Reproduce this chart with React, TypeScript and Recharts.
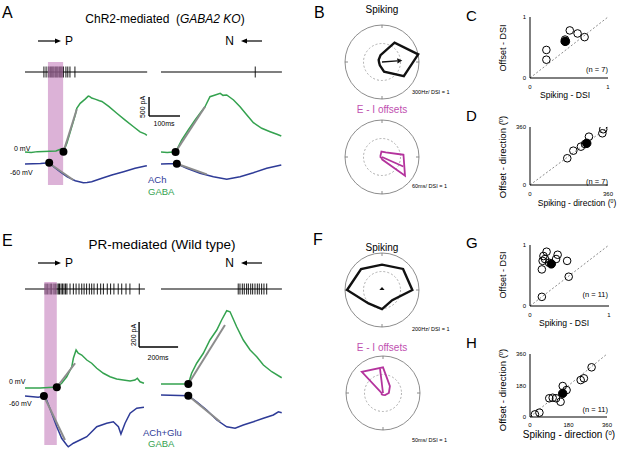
import React from 'react';
import {
  ComposedChart,
  Line,
  Scatter,
  XAxis,
  YAxis,
  ReferenceArea,
  ReferenceLine,
  ReferenceDot,
  RadarChart,
  Radar,
  PolarAngleAxis,
  PolarRadiusAxis,
  PolarGrid,
  ScatterChart,
} from 'recharts';

const FONT = 'Arial, "Liberation Sans", Helvetica, sans-serif';
const GREEN = '#34a24f';
const BLUE = '#2e3b97';
const FIT = '#8c8c8c';
const PINK = '#c47fbc';
const MAGENTA = '#b4339d';

type Pt = { t: number; v: number };
const pts = (rows: number[][]): Pt[] => rows.map(([t, v]) => ({ t, v }));

// ---------- A: ChR2-mediated (GABA2 KO) — time in ms, current in pA ----------
const aLeftGaba = pts([
  [0, 0], [20, -10], [40, 10], [60, 15], [80, 20], [100, 26], [110, 60], [118, 80], [124, 10],
  [135, 230], [146, 530], [162, 970], [167, 1150], [178, 1280], [194, 1390], [204, 1470],
  [208, 1460], [215, 1420], [226, 1390], [240, 1350], [248, 1330], [270, 1200], [296, 1020],
  [323, 840], [350, 665], [371, 530], [388, 470], [393, 440],
]);
const aLeftAch = pts([
  [0, -316], [25, -310], [50, -302], [78, -281], [92, -387], [113, -518], [135, -650], [162, -755],
  [188, -807], [200, -800], [215, -781], [248, -692], [280, -605], [318, -518], [355, -429],
  [388, -368], [393, -360],
]);
const aLeftGabaFit = pts([[124, 8], [167, 1123]]);
const aLeftAchFit = pts([[78, -297], [156, -736]]);
const aLeftOnsets = pts([[124, 8], [78, -281]]);
const aLeftSpikes = [61, 68, 75, 78, 82, 85, 88, 91, 94, 98, 101, 104, 107, 111, 114, 117, 120, 124, 132, 138, 145, 161];

const aRightGaba = pts([
  [0, 0], [20, -10], [40, 0], [47, 0], [67, 316], [88, 579], [110, 842], [126, 1018], [142, 1191],
  [158, 1454], [175, 1499], [191, 1544], [200, 1490], [212, 1499], [234, 1368], [255, 1191],
  [277, 973], [298, 771], [325, 623], [352, 534], [374, 466], [388, 421],
]);
const aRightAch = pts([
  [0, -316], [25, -310], [51, -308], [83, -429], [126, -560], [169, -650], [212, -718],
  [255, -650], [298, -544], [341, -429], [388, -342],
]);
const aRightGabaFit = pts([[47, 0], [142, 1191]]);
const aRightAchFit = pts([[51, -308], [148, -587]]);
const aRightOnsets = pts([[47, 0], [51, -308]]);
const aRightSpikes = [304];

// ---------- E: PR-mediated (Wild type) ----------
const eLeftGaba = pts([
  [0, 0], [77, 0], [145, 6], [163, 6], [188, 38], [214, 90], [240, 170], [248, 238], [262, 304],
  [273, 278], [291, 264], [317, 224], [342, 198], [368, 158], [402, 118], [436, 90], [470, 72],
  [504, 64], [539, 56], [564, 64], [576, 78], [590, 50], [610, 38],
]);
const eLeftAch = pts([
  [0, -64], [68, -74], [97, -64], [111, -96], [137, -202], [163, -310], [188, -402], [214, -456],
  [222, -470], [248, -442], [282, -416], [317, -390], [368, -310], [419, -282], [453, -270],
  [479, -310], [492, -368], [513, -282], [539, -202], [573, -162], [610, -154],
]);
const eLeftGabaFit = pts([[163, 6], [257, 198]]);
const eLeftAchFit = pts([[97, -64], [205, -416]]);
const eLeftOnsets = pts([[163, 6], [97, -64]]);
const eLeftSpikes = [
  103, 109, 116, 123, 130, 136, 144, 150, 157, 164, 171, 177, 185, 192, 200, 208, 215, 231, 248,
  262, 277, 291, 303, 316, 330, 342, 354, 371, 388, 402, 422, 439, 456, 478, 496, 518, 538, 586,
];

const eRightGaba = pts([
  [0, 32], [132, 32], [140, 32], [157, 118], [183, 198], [217, 278], [251, 384], [286, 464],
  [311, 544], [337, 618], [354, 610], [388, 490], [422, 384], [457, 304], [491, 250], [525, 184],
  [568, 130], [619, 82],
]);
const eRightAch = pts([
  [0, -56], [140, -62], [183, -110], [234, -176], [286, -256], [337, -310], [380, -322],
  [422, -296], [474, -270], [525, -242], [576, -216], [602, -190], [619, -198],
]);
const eRightGabaFit = pts([[140, 32], [328, 504]]);
const eRightAchFit = pts([[140, -62], [303, -270]]);
const eRightOnsets = pts([[140, 32], [140, -62]]);
const eRightSpikes = [396, 405, 417, 427, 439, 448, 460, 470, 482, 494, 504, 516, 528, 542];

// ---------- polar plots: 8 stimulus directions ----------
const DIRS = [0, 45, 90, 135, 180, 225, 270, 315];
const bSpikeRate = [300, 187, 57, 32, 24, 32, 81, 211]; // Hz
const bOffset = [35, 9.7, 8.9, 3.2, 2.4, 1.6, 4.2, 48]; // ms
const fSpikeRate = [164, 161, 137, 160, 189, 103, 103, 78]; // Hz
const fOffset = [7.9, 13.2, 34.7, 40.5, 2, 2.4, 2.4, 4]; // ms

// ---------- scatter panels ----------
type XY = { x: number; y: number };
const xy = (rows: number[][]): XY[] => rows.map(([x, y]) => ({ x, y }));
const cDsi = xy([[0.21, 0.46], [0.21, 0.3], [0.51, 0.78], [0.61, 0.73], [0.7, 0.67], [0.45, 0.63], [0.46, 0.6]]);
const cMean = xy([[0.45, 0.6]]);
const dDir = xy([[172, 166], [200, 213], [235, 238], [254, 254], [272, 300], [334, 321], [338, 346]]);
const dMean = xy([[262, 259]]);
const gDsi = xy([
  [0.21, 0.89], [0.17, 0.82], [0.16, 0.74], [0.35, 0.84], [0.33, 0.77], [0.15, 0.6],
  [0.47, 0.74], [0.49, 0.48], [0.15, 0.15], [0.19, 0.77], [0.24, 0.71],
]);
const gMean = xy([[0.27, 0.69]]);
const hDir = xy([
  [23, 15], [44, 25], [90, 107], [106, 110], [122, 107], [143, 87], [153, 177], [171, 154],
  [237, 211], [252, 221], [288, 284],
]);
const hMean = xy([[153, 135]]);

const DSI_TICKS = [0, 0.5, 1];
const DIR_TICKS = [0, 180, 360];

// ---------------------------------------------------------------------------

function Txt({
  x, y, size, children, color = '#000', anchor = 'start', rotate = 0,
}: {
  x: number; y: number; size: number; children: React.ReactNode; color?: string;
  anchor?: 'start' | 'middle' | 'end'; rotate?: number;
}) {
  const tx = anchor === 'middle' ? '-50%' : anchor === 'end' ? '-100%' : '0';
  return (
    <div
      style={{
        position: 'absolute', left: x, top: y, fontSize: size, color, lineHeight: 1,
        whiteSpace: 'pre',
        transform: `translate(${tx},-50%)${rotate ? ` rotate(${rotate}deg)` : ''}`,
      }}
    >
      {children}
    </div>
  );
}

const Deg = () => (
  <span style={{ fontSize: '0.6em', verticalAlign: '0.55em' }}>0</span>
);

const SpikeTick = (p: any) => (
  <line x1={p.cx} x2={p.cx} y1={p.cy - 5.5} y2={p.cy + 5.5} stroke="#000" strokeWidth={0.9} />
);

interface TraceProps {
  left: number; top: number; width: number; height: number;
  xMax: number; yMin: number; yMax: number;
  gaba: Pt[]; ach: Pt[]; gabaFit: Pt[]; achFit: Pt[]; onsets: Pt[];
  spikes: number[]; spikeLevel: number; spikeEnd: number;
  stim?: [number, number, number, number];
  bar?: [number, number, number, number];
}

function TracePanel(p: TraceProps) {
  const box: React.CSSProperties = { position: 'absolute', left: p.left, top: p.top };
  const axes = [
    <XAxis key="x" type="number" dataKey="t" domain={[0, p.xMax]} hide allowDataOverflow />,
    <YAxis key="y" type="number" dataKey="v" domain={[p.yMin, p.yMax]} hide allowDataOverflow />,
  ];
  const margin = { top: 0, right: 0, bottom: 0, left: 0 };
  const spikeRows = p.spikes.map((t) => ({ t, v: p.spikeLevel }));
  return (
    <>
      {/* spike recording underneath, so the stimulus box tints it */}
      <div style={box}>
        <ComposedChart width={p.width} height={p.height} margin={margin}>
          {axes}
          <ReferenceLine
            segment={[{ x: 0, y: p.spikeLevel }, { x: p.spikeEnd, y: p.spikeLevel }]}
            stroke="#000"
            strokeWidth={1.2}
          />
          <Scatter data={spikeRows} shape={SpikeTick} isAnimationActive={false} />
        </ComposedChart>
      </div>
      <div style={box}>
        <ComposedChart width={p.width} height={p.height} margin={margin}>
          {axes}
          {p.stim && (
            <ReferenceArea
              x1={p.stim[0]} x2={p.stim[1]} y1={p.stim[2]} y2={p.stim[3]}
              fill={PINK} fillOpacity={0.6} stroke="none"
            />
          )}
          <Line data={p.gaba} dataKey="v" stroke={GREEN} strokeWidth={1.5} dot={false} activeDot={false} isAnimationActive={false} />
          <Line data={p.ach} dataKey="v" stroke={BLUE} strokeWidth={1.5} dot={false} activeDot={false} isAnimationActive={false} />
          <Line data={p.gabaFit} dataKey="v" stroke={FIT} strokeWidth={2} dot={false} activeDot={false} isAnimationActive={false} />
          <Line data={p.achFit} dataKey="v" stroke={FIT} strokeWidth={2} dot={false} activeDot={false} isAnimationActive={false} />
          {p.onsets.map((o, i) => (
            <ReferenceDot key={i} x={o.t} y={o.v} r={4} fill="#000" stroke="none" />
          ))}
          {p.bar && (
            <ReferenceLine
              segment={[{ x: p.bar[0], y: p.bar[1] + p.bar[3] }, { x: p.bar[0], y: p.bar[1] }]}
              stroke="#000" strokeWidth={1.4}
            />
          )}
          {p.bar && (
            <ReferenceLine
              segment={[{ x: p.bar[0], y: p.bar[1] }, { x: p.bar[0] + p.bar[2], y: p.bar[1] }]}
              stroke="#000" strokeWidth={1.4}
            />
          )}
        </ComposedChart>
      </div>
    </>
  );
}

const OUTER_R = 37;
const POLAR_BOX = 84;
const polarMargin = { top: 0, right: 0, bottom: 0, left: 0 };
const QUADRANTS = [{ q: 'E', z: 0 }, { q: 'N', z: 0 }, { q: 'W', z: 0 }, { q: 'S', z: 0 }];

function ArrowShape(props: any) {
  const { points, stroke, strokeWidth, head } = props;
  if (!points || points.length < 2) return null;
  const tip = points[0];
  const ox = points[0].cx ?? points[1].x;
  const oy = points[0].cy ?? points[1].y;
  const dx = tip.x - ox;
  const dy = tip.y - oy;
  const len = Math.hypot(dx, dy) || 1;
  const ux = dx / len;
  const uy = dy / len;
  const hl = Math.min(5, len);
  const bx = tip.x - ux * hl;
  const by = tip.y - uy * hl;
  return (
    <g>
      <line x1={ox} y1={oy} x2={head ? bx : tip.x} y2={head ? by : tip.y} stroke={stroke} strokeWidth={strokeWidth} />
      {head && (
        <polygon
          points={`${tip.x},${tip.y} ${bx - uy * 2.6},${by + ux * 2.6} ${bx + uy * 2.6},${by - ux * 2.6}`}
          fill={stroke}
        />
      )}
    </g>
  );
}

function PolarPlot({
  cx, cy, values, max, startAngle, color, width, dsi, dsiAngle, head,
}: {
  cx: number; cy: number; values: number[]; max: number; startAngle: number; color: string;
  width: number; dsi: number; dsiAngle: number; head: boolean;
}) {
  const box: React.CSSProperties = { position: 'absolute', left: cx - POLAR_BOX / 2, top: cy - POLAR_BOX / 2 };
  const c = POLAR_BOX / 2;
  const rows = DIRS.map((dir, i) => ({ dir, r: values[i] }));
  const arrowRows = [{ k: 'a', v: dsi }, { k: 'b', v: 0 }, { k: 'c', v: 0 }];
  // the radar puts category i one band past startAngle, so shift back by one band
  const polyStart = startAngle - 360 / rows.length;
  const arrowStart = dsiAngle - 360 / arrowRows.length;
  return (
    <>
      <div style={box}>
        <RadarChart width={POLAR_BOX} height={POLAR_BOX} cx={c} cy={c} outerRadius={OUTER_R}
          data={QUADRANTS} startAngle={0} endAngle={360} margin={polarMargin}>
          <PolarGrid gridType="circle" radialLines={false} polarRadius={[OUTER_R / 2]}
            stroke="#9b9b9b" strokeDasharray="2 2" strokeWidth={0.8} />
          <PolarAngleAxis dataKey="q" axisLineType="circle" orientation="inner" tickSize={3}
            tick={false} stroke="#707070" strokeWidth={0.8} />
          <PolarRadiusAxis type="number" domain={[0, 1]} tick={false} axisLine={false} />
          <Radar dataKey="z" stroke="none" fill="none" isAnimationActive={false} />
        </RadarChart>
      </div>
      <div style={box}>
        <RadarChart width={POLAR_BOX} height={POLAR_BOX} cx={c} cy={c} outerRadius={OUTER_R}
          data={rows} startAngle={polyStart} endAngle={polyStart + 360} margin={polarMargin}>
          <PolarAngleAxis dataKey="dir" tick={false} tickLine={false} axisLine={false} />
          <PolarRadiusAxis type="number" domain={[0, max]} tick={false} axisLine={false} />
          <Radar dataKey="r" stroke={color} strokeWidth={width} strokeLinejoin="miter"
            fill="none" isAnimationActive={false} />
        </RadarChart>
      </div>
      <div style={box}>
        <RadarChart width={POLAR_BOX} height={POLAR_BOX} cx={c} cy={c} outerRadius={OUTER_R}
          data={arrowRows} startAngle={arrowStart} endAngle={arrowStart + 360} margin={polarMargin}>
          <PolarAngleAxis dataKey="k" tick={false} tickLine={false} axisLine={false} />
          <PolarRadiusAxis type="number" domain={[0, 1]} tick={false} axisLine={false} />
          <Radar dataKey="v" isAnimationActive={false}
            shape={(sp: any) => <ArrowShape {...sp} stroke={color} strokeWidth={head ? 1.3 : width} head={head} />} />
        </RadarChart>
      </div>
    </>
  );
}

const OpenCircle = (p: any) => <circle cx={p.cx} cy={p.cy} r={3.8} fill="none" stroke="#000" strokeWidth={1} />;
const FilledCircle = (p: any) => <circle cx={p.cx} cy={p.cy} r={4.2} fill="#000" stroke="#000" strokeWidth={1} />;

function ScatterPanel({
  plotLeft, plotTop, plotW, plotH, max, ticks, labeled, data, mean, labelGap = 8.5,
}: {
  plotLeft: number; plotTop: number; plotW: number; plotH: number; max: number;
  ticks: number[]; labeled: number[]; data: XY[]; mean: XY[]; labelGap?: number;
}) {
  const YW = 24, MT = 4, MR = 6, XH = 14;
  return (
    <>
      <div style={{ position: 'absolute', left: plotLeft - YW, top: plotTop - MT }}>
        <ScatterChart width={YW + plotW + MR} height={MT + plotH + XH}
          margin={{ top: MT, right: MR, bottom: 0, left: 0 }}>
          <XAxis type="number" dataKey="x" domain={[0, max]} ticks={ticks} interval={0}
            tickSize={2} height={XH} tick={false}
            axisLine={{ stroke: '#000' }} tickLine={{ stroke: '#000' }} allowDataOverflow />
          <YAxis type="number" dataKey="y" domain={[0, max]} ticks={ticks} interval={0}
            tickSize={2} width={YW} tick={false}
            axisLine={{ stroke: '#000' }} tickLine={{ stroke: '#000' }} allowDataOverflow />
          <ReferenceLine segment={[{ x: 0, y: 0 }, { x: max, y: max }]} stroke="#8c8c8c"
            strokeDasharray="2 2" strokeWidth={1} />
          <Scatter data={data} shape={OpenCircle} isAnimationActive={false} />
          <Scatter data={mean} shape={FilledCircle} isAnimationActive={false} />
        </ScatterChart>
      </div>
      {/* tick labels */}
      {labeled.map((v) => (
        <Txt key={`x${v}`} x={plotLeft + (v / max) * plotW} y={plotTop + plotH + labelGap} size={6} anchor="middle">
          {String(v)}
        </Txt>
      ))}
      {labeled.map((v) => (
        <Txt key={`y${v}`} x={plotLeft - 4} y={plotTop + plotH - (v / max) * plotH} size={6} anchor="end">
          {String(v)}
        </Txt>
      ))}
    </>
  );
}

function DirArrow({ x1, x2, y }: { x1: number; x2: number; y: number }) {
  const dir = Math.sign(x2 - x1);
  return (
    <g>
      <line x1={x1} y1={y} x2={x2 - dir * 5} y2={y} stroke="#000" strokeWidth={1.2} />
      <polygon points={`${x2},${y} ${x2 - dir * 6},${y - 2.6} ${x2 - dir * 6},${y + 2.6}`} fill="#000" />
    </g>
  );
}

export default function App() {
  return (
    <div
      style={{
        position: 'absolute', left: 0, top: 0, width: 617, height: 451, overflow: 'hidden',
        background: '#fff', fontFamily: FONT, color: '#000',
      }}
    >
      {/* ---- A ---- */}
      <TracePanel left={25} top={56} width={160} height={140} xMax={516} yMin={-1157} yMax={2525}
        gaba={aLeftGaba} ach={aLeftAch} gabaFit={aLeftGabaFit} achFit={aLeftAchFit} onsets={aLeftOnsets}
        spikes={aLeftSpikes} spikeLevel={2104} spikeEnd={394} stim={[74, 123, -868, 2367]}
        bar={[400, 947, 100, 500]} />
      <TracePanel left={161} top={56} width={124} height={140} xMax={400} yMin={-1157} yMax={2525}
        gaba={aRightGaba} ach={aRightAch} gabaFit={aRightGabaFit} achFit={aRightAchFit} onsets={aRightOnsets}
        spikes={aRightSpikes} spikeLevel={2104} spikeEnd={390} />

      {/* ---- E ---- */}
      <TracePanel left={25} top={280} width={160} height={172} xMax={820.5} yMin={-512} yMax={864}
        gaba={eLeftGaba} ach={eLeftAch} gabaFit={eLeftGabaFit} achFit={eLeftAchFit} onsets={eLeftOnsets}
        spikes={eLeftSpikes} spikeLevel={792} spikeEnd={615} stim={[99, 163, -456, 848]}
        bar={[585, 328, 200, 200]} />
      <TracePanel left={161} top={280} width={122} height={172} xMax={625.6} yMin={-512} yMax={864}
        gaba={eRightGaba} ach={eRightAch} gabaFit={eRightGabaFit} achFit={eRightAchFit} onsets={eRightOnsets}
        spikes={eRightSpikes} spikeLevel={792} spikeEnd={620} />

      {/* ---- polar plots ---- */}
      <PolarPlot cx={382} cy={62} values={bSpikeRate} max={300} startAngle={12} color="#111"
        width={2.4} dsi={0.55} dsiAngle={4} head />
      <PolarPlot cx={382} cy={157} values={bOffset} max={60} startAngle={6} color={MAGENTA}
        width={1.8} dsi={0.63} dsiAngle={336} head={false} />
      <PolarPlot cx={382} cy={290} values={fSpikeRate} max={200} startAngle={0} color="#111"
        width={2.4} dsi={0.08} dsiAngle={90} head />
      <PolarPlot cx={383} cy={393} values={fOffset} max={50} startAngle={0} color={MAGENTA}
        width={1.8} dsi={0.66} dsiAngle={97} head={false} />

      {/* ---- scatter plots ---- */}
      <ScatterPanel plotLeft={530} plotTop={17} plotW={78} plotH={61} max={1} ticks={DSI_TICKS}
        labeled={[0, 1]} data={cDsi} mean={cMean} />
      <ScatterPanel plotLeft={530} plotTop={127} plotW={78} plotH={58} max={360} ticks={DIR_TICKS}
        labeled={[0, 360]} data={dDir} mean={dMean} />
      <ScatterPanel plotLeft={530} plotTop={245} plotW={79} plotH={61} max={1} ticks={DSI_TICKS}
        labeled={[0, 1]} data={gDsi} mean={gMean} />
      <ScatterPanel plotLeft={530} plotTop={354} plotW={77} plotH={63} max={360} ticks={DIR_TICKS}
        labeled={[0, 180, 360]} data={hDir} mean={hMean} labelGap={7.5} />

      {/* direction arrows */}
      <svg width={617} height={451} style={{ position: 'absolute', left: 0, top: 0, pointerEvents: 'none' }}>
        <DirArrow x1={38} x2={61} y={41} />
        <DirArrow x1={262} x2={241} y={41} />
        <DirArrow x1={38} x2={61} y={263} />
        <DirArrow x1={262} x2={241} y={263} />
      </svg>

      {/* panel letters */}
      <Txt x={2} y={13} size={16}>A</Txt>
      <Txt x={314} y={13} size={16}>B</Txt>
      <Txt x={466} y={15} size={15}>C</Txt>
      <Txt x={466} y={115} size={15}>D</Txt>
      <Txt x={2} y={241} size={16}>E</Txt>
      <Txt x={313} y={240} size={16}>F</Txt>
      <Txt x={466} y={242} size={15}>G</Txt>
      <Txt x={466} y={342} size={15}>H</Txt>

      {/* A texts */}
      <Txt x={165} y={19} size={12} anchor="middle">ChR2-mediated  (<i>GABA2 KO</i>)</Txt>
      <Txt x={65} y={41} size={12}>P</Txt>
      <Txt x={234} y={41} size={12} anchor="end">N</Txt>
      <Txt x={14} y={148} size={7}>0 mV</Txt>
      <Txt x={10} y={172} size={7}>-60 mV</Txt>
      <Txt x={142} y={107} size={7} anchor="middle" rotate={-90}>500 pA</Txt>
      <Txt x={164} y={123} size={7} anchor="middle">100ms</Txt>
      <Txt x={148} y={180} size={9.5} color={BLUE}>ACh</Txt>
      <Txt x={148} y={192} size={9.5} color={GREEN}>GABA</Txt>

      {/* E texts */}
      <Txt x={162} y={245} size={13.5} anchor="middle">PR-mediated (Wild type)</Txt>
      <Txt x={65} y={263} size={12}>P</Txt>
      <Txt x={234} y={263} size={12} anchor="end">N</Txt>
      <Txt x={9} y={381} size={7}>0 mV</Txt>
      <Txt x={9} y={403} size={7}>-60 mV</Txt>
      <Txt x={133} y={335} size={7} anchor="middle" rotate={-90}>200 pA</Txt>
      <Txt x={158} y={357} size={7} anchor="middle">200ms</Txt>
      <Txt x={143} y={433} size={9.5} color={BLUE}>ACh+Glu</Txt>
      <Txt x={148} y={444} size={9.5} color={GREEN}>GABA</Txt>

      {/* polar texts */}
      <Txt x={382} y={10} size={10} anchor="middle">Spiking</Txt>
      <Txt x={412} y={93} size={5.5}>300Hz/ DSI = 1</Txt>
      <Txt x={382} y={110} size={10} anchor="middle" color="#c050b0">E - I offsets</Txt>
      <Txt x={412} y={187} size={5.5}>60ms/ DSI = 1</Txt>
      <Txt x={382} y={248} size={10} anchor="middle">Spiking</Txt>
      <Txt x={412} y={330} size={5.5}>200Hz/ DSI = 1</Txt>
      <Txt x={382} y={348} size={10} anchor="middle" color="#c050b0">E - I offsets</Txt>
      <Txt x={412} y={441} size={5.5}>50ms/ DSI = 1</Txt>

      {/* scatter texts */}
      <Txt x={503} y={48} size={9} anchor="middle" rotate={-90}>Offset - DSI</Txt>
      <Txt x={565} y={95} size={8.6} anchor="middle">Spiking - DSI</Txt>
      <Txt x={608} y={70} size={7.5} anchor="end">(n = 7)</Txt>
      <Txt x={503} y={157} size={9.6} anchor="middle" rotate={-90}>Offset - direction (<Deg />)</Txt>
      <Txt x={577} y={203} size={8.5} anchor="middle">Spiking - direction (<Deg />)</Txt>
      <Txt x={608} y={182} size={7.5} anchor="end">(n = 7)</Txt>
      <Txt x={503} y={275} size={9} anchor="middle" rotate={-90}>Offset - DSI</Txt>
      <Txt x={564} y={323} size={8.6} anchor="middle">Spiking - DSI</Txt>
      <Txt x={608} y={295} size={7.5} anchor="end">(n = 11)</Txt>
      <Txt x={503} y={390} size={9.6} anchor="middle" rotate={-90}>Offset - direction (<Deg />)</Txt>
      <Txt x={569} y={435} size={10} anchor="middle">Spiking - direction (<Deg />)</Txt>
      <Txt x={608} y={410} size={7.5} anchor="end">(n = 11)</Txt>
    </div>
  );
}
